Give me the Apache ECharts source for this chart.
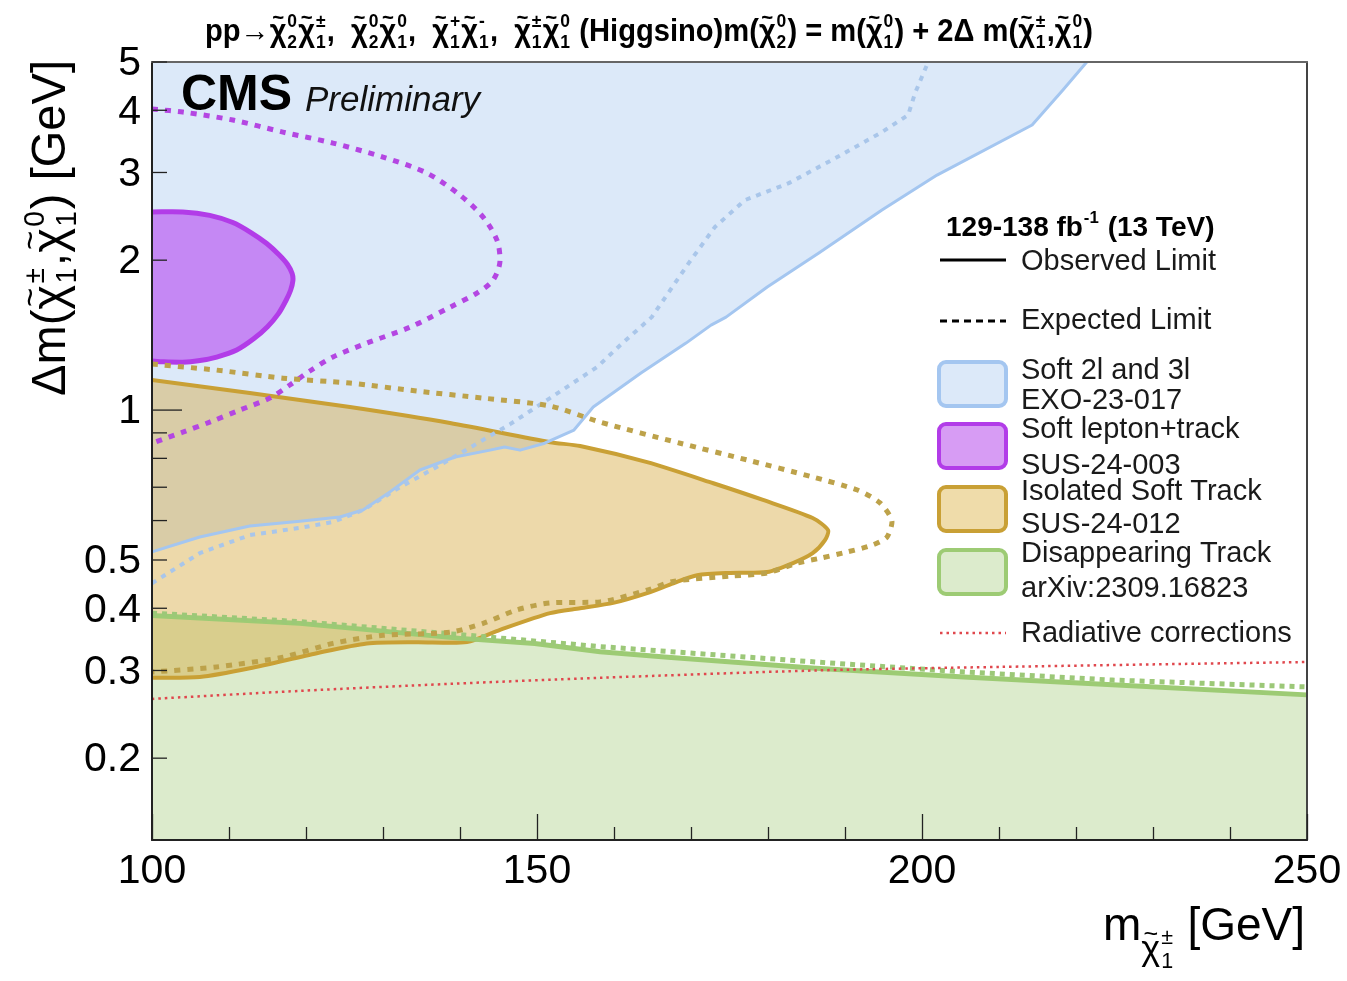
<!DOCTYPE html>
<html>
<head>
<meta charset="utf-8">
<script src="https://cdn.jsdelivr.net/npm/echarts@6/dist/echarts.min.js"></script>
<style>
  html, body { margin: 0; padding: 0; background: #fff; }
  #chart { width: 1347px; height: 981px; }
</style>
</head>
<body>
<div id="chart"></div>
<script>
// Axis ranges: chargino mass (GeV) and log-scale mass splitting (GeV)
const xRange = [100, 250];
const yRange = [0.137, 5];

// Tick values
const xMajorTicks = [100, 150, 200, 250];
const yTickValues = [0.2, 0.3, 0.4, 0.5, 0.6, 0.7, 0.8, 0.9, 1, 2, 3, 4, 5];
const yTickLabels = [0.2, 0.3, 0.4, 0.5, 1, 2, 3, 4, 5];
const yDecadeTicks = [1];

// Soft 2l and 3l (EXO-23-017): excluded above the observed curve
const soft2l3lObserved = [
  [100, 0.519], [106.2, 0.556], [112.7, 0.585], [119.2, 0.598], [124.4, 0.610],
  [127.4, 0.630], [130.9, 0.685], [134.8, 0.758], [139.35, 0.805], [143.9, 0.831],
  [145.8, 0.843], [147.8, 0.831], [151.0, 0.858], [154.8, 0.912], [157.3, 1.014],
  [163.5, 1.187], [169.35, 1.363], [172.6, 1.481], [174.55, 1.537], [179.9, 1.766],
  [186.6, 2.067], [194.8, 2.521], [201.95, 2.964], [214.3, 3.736], [218.3, 4.391],
  [221.4, 5.0]
];
const soft2l3lExpected = [
  [100, 0.449], [106.2, 0.516], [112.7, 0.561], [119.2, 0.580], [123.5, 0.596],
  [127.4, 0.630], [132.2, 0.700], [137.4, 0.775], [143.0, 0.871], [146.5, 0.937],
  [151.7, 1.057], [157.8, 1.220], [160.8, 1.350], [164.9, 1.537], [169.7, 1.973],
  [173.1, 2.331], [177.0, 2.640], [182.7, 2.856], [189.0, 3.221], [194.8, 3.616],
  [198.2, 3.912], [199.1, 4.330], [200.8, 5.0]
];

// Soft lepton+track (SUS-24-003): closed observed contour, open expected contour
const softLepTrackObserved = [
  [96, 2.50], [100, 2.50], [104.0, 2.50], [107.5, 2.46], [110.5, 2.38], [112.9, 2.27],
  [114.9, 2.16], [116.5, 2.05], [117.6, 1.96], [118.2, 1.88], [118.3, 1.82],
  [118.0, 1.74], [117.4, 1.66], [116.4, 1.56], [115.0, 1.47],
  [113.2, 1.39], [111.0, 1.32], [108.4, 1.278], [106.0, 1.256], [104.0, 1.248],
  [101.5, 1.25], [100, 1.255], [96, 1.27]
];
const softLepTrackExpected = [
  [100, 4.022], [104.0, 3.967], [110.5, 3.823], [117.0, 3.616], [123.5, 3.437],
  [130.0, 3.221], [135.7, 2.992], [140.0, 2.702], [143.0, 2.441], [144.8, 2.194],
  [145.2, 2.001], [144.3, 1.824], [142.2, 1.718], [138.7, 1.609], [133.5, 1.467],
  [127.9, 1.363], [123.5, 1.278], [120.5, 1.198], [117.9, 1.123], [115.3, 1.057],
  [111.4, 1.0], [107.5, 0.946], [104.0, 0.903], [100, 0.858]
];

// Isolated Soft Track (SUS-24-012)
const isoTrackObserved = [
  [96, 1.17], [100, 1.149], [112.7, 1.082], [125.7, 1.014], [138.7, 0.942], [151.7, 0.862],
  [155.6, 0.847], [164.3, 0.786], [172.9, 0.713], [179.35, 0.660], [185.8, 0.607],
  [187.8, 0.574], [187.4, 0.548], [185.8, 0.516], [183.25, 0.493], [179.9, 0.473],
  [175.1, 0.471], [170.8, 0.466], [167.7, 0.449], [164.3, 0.429], [159.9, 0.410],
  [155.6, 0.400], [151.7, 0.391], [145.2, 0.362], [140.9, 0.342], [134.4, 0.342],
  [127.9, 0.340], [121.4, 0.325], [112.7, 0.303], [106.2, 0.291], [100, 0.290], [96, 0.290]
];
const isoTrackExpected = [
  [100, 1.237], [108.4, 1.203], [117.0, 1.159], [125.7, 1.133], [134.4, 1.092],
  [143.0, 1.057], [151.7, 1.019], [158.2, 0.946], [168.6, 0.858], [177.3, 0.794],
  [185.8, 0.734], [191.6, 0.691], [194.55, 0.651], [196.1, 0.596], [195.45, 0.556],
  [193.6, 0.536], [190.3, 0.519], [186.75, 0.504], [183.8, 0.493], [179.9, 0.471],
  [175.1, 0.464], [167.7, 0.453], [164.3, 0.435], [158.2, 0.412], [151.7, 0.410],
  [147.4, 0.397], [143.0, 0.373], [138.7, 0.358], [130.0, 0.353], [123.5, 0.340],
  [117.0, 0.319], [108.4, 0.305], [100, 0.298]
];

// Disappearing Track (arXiv:2309.16823): excluded below the curve
const disTrackObserved = [
  [100, 0.387], [119.2, 0.373], [140.1, 0.348], [149.7, 0.340], [158.2, 0.327],
  [167.0, 0.319], [186.2, 0.303], [205.45, 0.291], [224.7, 0.281], [250, 0.268]
];
const disTrackExpected = [
  [100, 0.391], [119.2, 0.376], [140.1, 0.354], [158.2, 0.335], [186.2, 0.312],
  [205.45, 0.298], [224.7, 0.287], [250, 0.278]
];

// Radiative-correction mass splitting
const radiativeCorrections = [
  [100, 0.263], [119.2, 0.273], [138.7, 0.282], [158.2, 0.290], [186.2, 0.300],
  [210.1, 0.305], [250, 0.312]
];

const FAMILY = '"Liberation Sans", Arial, Helvetica, sans-serif';
const C = {
  blueFill: '#dce9f9', blueLine: '#a4c6f0', blueDot: '#a9c6ea',
  purpleFill: 'rgba(182, 72, 240, 0.6)', purpleLine: '#b23ce8', purpleDot: '#b446e2',
  tanFill: 'rgba(214, 168, 58, 0.43)', tanLine: '#c9a035', tanDot: '#bda24a',
  greenFill: '#dcebcc', greenLine: '#9dcb74', greenDot: '#9cc878',
  red: '#e0474d'
};

// ---- text layout helpers (sub/superscripts, tildes) ----
const mctx = document.createElement('canvas').getContext('2d');
function measure(str, font) { mctx.font = font; return mctx.measureText(str).width; }

function layoutFormula(tokens, size, weight, color) {
  const pieces = [];
  let x = 0;
  const font = px => `${weight} ${px.toFixed(1)}px ${FAMILY}`;
  const put = (text, px, py, f, align) => pieces.push({
    type: 'text', x: px, y: py,
    style: { text, font: f, fill: color, textAlign: align || 'left', textVerticalAlign: 'middle' }
  });
  tokens.forEach(tk => {
    const t = typeof tk === 'string' ? { b: tk } : tk;
    const bs = size * (t.k || 1);
    const dy = (t.dy || 0) * size;
    let bw = 0;
    if (t.b) {
      put(t.b, x, dy, font(bs));
      bw = measure(t.b, font(bs));
      if (t.tilde) put('~', x + bw * 0.5, dy - bs * 0.42, font(bs * 0.7), 'center');
    }
    const ss = bs * 0.6;
    let sw = 0;
    if (t.sup) {
      put(t.sup, x + bw + bs * 0.03, dy - bs * 0.34, font(ss));
      sw = Math.max(sw, measure(t.sup, font(ss)));
    }
    if (t.sub) {
      put(t.sub, x + bw + bs * 0.03, dy + bs * 0.34, font(ss));
      sw = Math.max(sw, measure(t.sub, font(ss)));
    }
    x += bw + (sw ? sw + bs * 0.07 : 0);
  });
  return { pieces, width: x };
}

const chi = (sup, sub) => ({ b: 'χ', tilde: true, sup, sub });

const titleTokens = [
  'pp→', chi('0', '2'), chi('±', '1'), ',  ', chi('0', '2'), chi('0', '1'), ',  ',
  chi('+', '1'), chi('-', '1'), ',  ', chi('±', '1'), chi('0', '1'), ' (Higgsino)m(',
  chi('0', '2'), ') = m(', chi('0', '1'), ') + 2Δ m(', chi('±', '1'), ',', chi('0', '1'), ')'
];
const yTitleTokens = ['Δm(', chi('±', '1'), ',', chi('0', '1'), ') [GeV]'];
const xTitleTokens = ['m', { b: 'χ', tilde: true, sup: '±', sub: '1', k: 0.78, dy: 0.5 }, ' [GeV]'];
const lumiTokens = ['129-138 fb', { sup: '-1' }, ' (13 TeV)'];

const title = layoutFormula(titleTokens, 31, 'bold', '#000');
const yTitle = layoutFormula(yTitleTokens, 48, 'normal', '#000');
const xTitle = layoutFormula(xTitleTokens, 46, 'normal', '#000');
const lumi = layoutFormula(lumiTokens, 28, 'bold', '#000');

// ---- series builders ----
function polygonSeries(name, pts, style, smooth) {
  return {
    type: 'custom', name, coordinateSystem: 'cartesian2d', clip: true, silent: true,
    data: pts,
    renderItem(params, api) {
      if (params.dataIndex !== 0) return null;
      return {
        type: 'polygon',
        shape: { points: pts.map(p => api.coord(p)), smooth: smooth || 0 },
        style: Object.assign({ lineJoin: 'round' }, style)
      };
    }
  };
}
function lineSeries(name, pts, color, width, dash, smooth) {
  return {
    type: 'line', name, data: pts, symbol: 'none', silent: true, clip: true,
    smooth: smooth || false,
    lineStyle: { color, width, type: dash || 'solid', cap: 'butt', join: 'round' }
  };
}

const series = [
  polygonSeries('Soft 2l and 3l fill', soft2l3lObserved.concat([[xRange[0], yRange[1]]]), { fill: C.blueFill }),
  lineSeries('Soft 2l and 3l observed', soft2l3lObserved, C.blueLine, 3),
  lineSeries('Soft 2l and 3l expected', soft2l3lExpected, C.blueDot, 4, [5, 6]),
  polygonSeries('Soft lepton+track', softLepTrackObserved,
    { fill: C.purpleFill, stroke: C.purpleLine, lineWidth: 5 }, 0.3),
  lineSeries('Soft lepton+track expected', softLepTrackExpected, C.purpleDot, 5, [6, 7], 0.3),
  polygonSeries('Disappearing Track fill',
    disTrackObserved.concat([[xRange[1], yRange[0]], [xRange[0], yRange[0]]]), { fill: C.greenFill }),
  lineSeries('Disappearing Track observed', disTrackObserved, C.greenLine, 5),
  lineSeries('Disappearing Track expected', disTrackExpected, C.greenDot, 5, [5, 5]),
  polygonSeries('Isolated Soft Track', isoTrackObserved,
    { fill: C.tanFill, stroke: C.tanLine, lineWidth: 4 }, 0.25),
  lineSeries('Isolated Soft Track expected', isoTrackExpected, C.tanDot, 5, [6, 7], 0.25),
  lineSeries('Radiative corrections', radiativeCorrections, C.red, 2.5, [2.5, 4], 0.3),
  {
    // log-axis ticks and their labels
    type: 'custom', name: 'y ticks', coordinateSystem: 'cartesian2d', clip: false, silent: true, z: 20,
    data: yTickValues.map(v => [xRange[0], v]),
    renderItem(params, api) {
      const v = api.value(1);
      const p = api.coord([api.value(0), v]);
      const len = yDecadeTicks.includes(v) ? 30 : 15;
      const children = [{
        type: 'line', shape: { x1: p[0], y1: p[1], x2: p[0] + len, y2: p[1] },
        style: { stroke: '#222', lineWidth: 1.3 }
      }];
      if (yTickLabels.includes(v)) {
        children.push({
          type: 'text', x: p[0] - 11, y: p[1] + 2,
          style: { text: String(v), font: `41px ${FAMILY}`, fill: '#000', textAlign: 'right', textVerticalAlign: 'middle' }
        });
      }
      return { type: 'group', children };
    }
  }
];

// ---- legend and annotations ----
const legendText = (text, y) => ({
  type: 'text', x: 1021, y, z: 30,
  style: { text, font: `29px ${FAMILY}`, fill: '#1a1a1a', textVerticalAlign: 'middle' }
});
const legendBox = (y, fill, stroke) => ({
  type: 'rect', z: 30, shape: { x: 939, y, width: 67, height: 44, r: 7 },
  style: { fill, stroke, lineWidth: 4 }
});
const legendLine = (y, stroke, width, dash) => ({
  type: 'line', z: 30, shape: { x1: 940, y1: y, x2: 1006, y2: y },
  style: { stroke, lineWidth: width, lineDash: dash || null }
});

const graphic = [
  { type: 'group', x: 205, y: 32, scaleX: 888 / title.width, children: title.pieces, z: 30 },
  { type: 'group', x: 52, y: 396, rotation: Math.PI / 2, scaleX: 336 / yTitle.width, children: yTitle.pieces, z: 30 },
  { type: 'group', x: 1305 - xTitle.width, y: 927, children: xTitle.pieces, z: 30 },
  { type: 'text', x: 181, y: 96, z: 30,
    style: { text: 'CMS', font: `bold 50px ${FAMILY}`, fill: '#000', textVerticalAlign: 'middle' } },
  { type: 'text', x: 305, y: 101, z: 30,
    style: { text: 'Preliminary', font: `italic 35px ${FAMILY}`, fill: '#111', textVerticalAlign: 'middle' } },
  { type: 'group', x: 946, y: 228, children: lumi.pieces, z: 30 },
  legendLine(260, '#000', 3),
  legendText('Observed Limit', 262),
  legendLine(321, '#000', 3, [7, 5]),
  legendText('Expected Limit', 321),
  legendBox(362, C.blueFill, C.blueLine),
  legendText('Soft 2l and 3l', 371),
  legendText('EXO-23-017', 401),
  legendBox(424, '#d79cf4', C.purpleLine),
  legendText('Soft lepton+track', 430),
  legendText('SUS-24-003', 466),
  legendBox(487, '#efdcaa', C.tanLine),
  legendText('Isolated Soft Track', 492),
  legendText('SUS-24-012', 525),
  legendBox(550, C.greenFill, C.greenLine),
  legendText('Disappearing Track', 554),
  legendText('arXiv:2309.16823', 589),
  legendLine(633, C.red, 2.5, [2.5, 4]),
  legendText('Radiative corrections', 634)
];

const hiddenAxisParts = {
  axisTick: { show: false }, axisLabel: { show: false }, splitLine: { show: false }
};

const option = {
  backgroundColor: '#fff',
  animation: false,
  grid: { left: 152, top: 62, width: 1155, height: 778, containLabel: false },
  xAxis: [
    {
      type: 'value', min: xRange[0], max: xRange[1], interval: 50, position: 'bottom', z: 10,
      axisLine: { show: true, onZero: false, lineStyle: { color: '#222', width: 2 } },
      axisTick: { show: true, inside: true, length: 26, lineStyle: { color: '#222', width: 1.3 } },
      minorTick: { show: true, splitNumber: 5, length: 13, lineStyle: { color: '#222', width: 1.3 } },
      axisLabel: {
        margin: 11, fontSize: 41, fontFamily: FAMILY, color: '#000',
        showMinLabel: true, showMaxLabel: true,
        formatter: v => (xMajorTicks.includes(v) ? String(v) : '')
      },
      splitLine: { show: false }
    },
    Object.assign({
      type: 'value', min: xRange[0], max: xRange[1], position: 'top', z: 10,
      axisLine: { show: true, onZero: false, lineStyle: { color: '#666', width: 2 } }
    }, hiddenAxisParts)
  ],
  yAxis: [
    Object.assign({
      type: 'log', logBase: 10, min: yRange[0], max: yRange[1], position: 'left', z: 10,
      axisLine: { show: true, onZero: false, lineStyle: { color: '#222', width: 2 } }
    }, hiddenAxisParts),
    Object.assign({
      type: 'log', logBase: 10, min: yRange[0], max: yRange[1], position: 'right', z: 10,
      axisLine: { show: true, onZero: false, lineStyle: { color: '#444', width: 2 } }
    }, hiddenAxisParts)
  ],
  series,
  graphic
};

const chart = echarts.init(document.getElementById('chart'), null, { renderer: 'canvas' });
chart.setOption(option);
</script>
</body>
</html>
